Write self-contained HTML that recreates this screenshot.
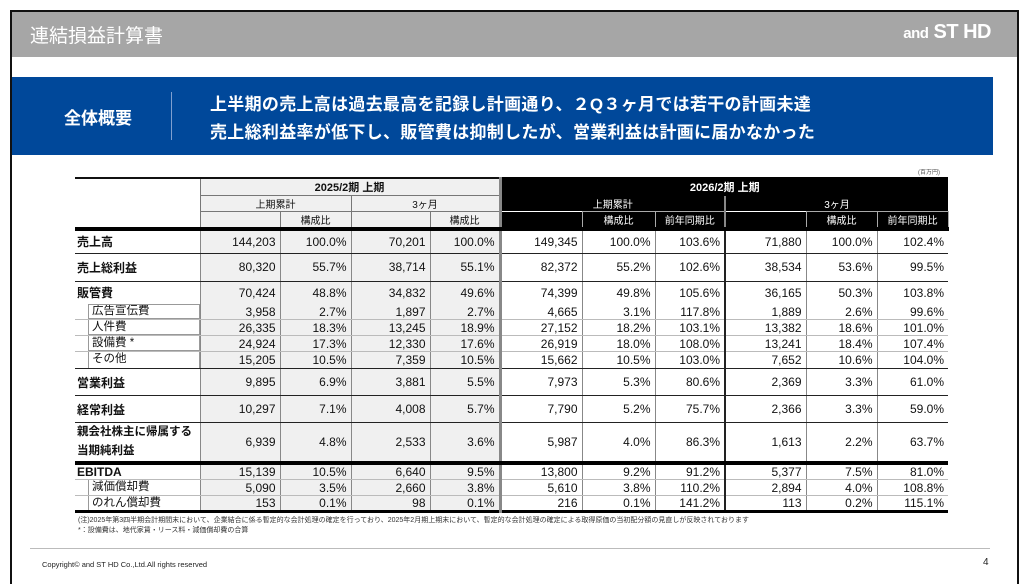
<!DOCTYPE html>
<html><head><meta charset="utf-8"><style>
*{margin:0;padding:0;box-sizing:border-box}
body{width:1026px;height:586px;background:#fff;position:relative;overflow:hidden;font-family:"Liberation Sans","Noto Sans CJK JP",sans-serif}
.frame{position:absolute;left:10px;top:10px;width:1009px;height:574px;border:2px solid #111;border-bottom:none}
.hdr{position:absolute;left:12px;top:12px;width:1005px;height:45px;background:#a6a6a6}
.ttl{position:absolute;left:30px;top:21px;color:#fff;font-size:19px}
.logo{position:absolute;right:35px;top:21px;color:#fff;font-size:20px;font-weight:bold;letter-spacing:-0.5px}
.logo small{font-size:15px}
.blue{position:absolute;left:12px;top:77px;width:981px;height:78px;background:#00489a;color:#fff}
.blue .k{position:absolute;left:52px;top:27px;font-size:17px;font-weight:bold}
.blue .d{position:absolute;left:159px;top:15px;width:1px;height:48px;background:#7f9fcf}
.blue .t{position:absolute;left:198px;top:14px;font-size:17px;font-weight:bold;line-height:28px;letter-spacing:0.3px}
table{position:absolute;left:75px;top:177px;border-collapse:collapse;table-layout:fixed;font-size:12px}
td{padding:0 4px;text-align:right;white-space:nowrap;overflow:hidden;color:#111}
td.l{text-align:left;font-weight:bold;padding-left:2px}
td div{text-align:left;line-height:13px;overflow:hidden}
.g{background:#f0f0f0}
.hg{background:#f0f0f0;text-align:center;font-size:10px;border:1px solid #777}
.hb{background:#000;color:#fff;text-align:center;font-size:10px}
.v{border-left:1px solid #888}
.vb{border-left:3px solid #888}
.vk{border-left:2px solid #222}
tr.b td{border-bottom:1px solid #222}
tr.sb td{border-bottom:1px solid #bbb}
.note{position:absolute;left:78px;font-size:7px;color:#333}
</style></head><body>
<div class="frame"></div>
<div class="hdr"></div>
<div class="ttl">連結損益計算書</div>
<div class="logo"><small>and</small> ST HD</div>
<div class="blue"><div class="k">全体概要</div><div class="d"></div>
<div class="t">上半期の売上高は過去最高を記録し計画通り、２Q３ヶ月では若干の計画未達<br>売上総利益率が低下し、販管費は抑制したが、営業利益は計画に届かなかった</div></div>
<div style="position:absolute;left:918px;top:167px;font-size:6px;color:#555">(百万円)</div>
<table>
<colgroup><col style="width:125px"><col style="width:80px"><col style="width:71px"><col style="width:79px"><col style="width:70px"><col style="width:82px"><col style="width:73px"><col style="width:70px"><col style="width:81px"><col style="width:71px"><col style="width:71px"></colgroup>
<tr style="height:15px"><td style="border-top:2px solid #111"></td><td colspan="4" class="hg" style="font-weight:bold;font-size:11px;border-top:2px solid #111">2025/2期 上期</td><td colspan="6" class="hb vb" style="font-weight:bold;font-size:11px;border-top:2px solid #000">2026/2期 上期</td></tr>
<tr style="height:15px"><td></td><td colspan="2" class="hg">上期累計</td><td colspan="2" class="hg">3ヶ月</td><td colspan="3" class="hb vb">上期累計</td><td colspan="3" class="hb" style="border-left:2px solid #888">3ヶ月</td></tr>
<tr style="height:15px;border-bottom:4px solid #000"><td></td><td class="hg" style="border-top:none"></td><td class="hg">構成比</td><td class="hg" style="border-top:none"></td><td class="hg">構成比</td><td class="hb vb"></td><td class="hb" style="border:1px solid #aaa">構成比</td><td class="hb" style="border:1px solid #aaa">前年同期比</td><td class="hb" style="border-left:2px solid #888"></td><td class="hb" style="border:1px solid #aaa">構成比</td><td class="hb" style="border:1px solid #aaa">前年同期比</td></tr>
<tr class="b" style="height:24px"><td class="l">売上高</td><td class="g v">144,203</td><td class="g v">100.0%</td><td class="g v">70,201</td><td class="g v">100.0%</td><td class="vb">149,345</td><td class="v">100.0%</td><td class="v">103.6%</td><td class="vk">71,880</td><td class="v">100.0%</td><td class="v">102.4%</td></tr>
<tr class="b" style="height:28px"><td class="l">売上総利益</td><td class="g v">80,320</td><td class="g v">55.7%</td><td class="g v">38,714</td><td class="g v">55.1%</td><td class="vb">82,372</td><td class="v">55.2%</td><td class="v">102.6%</td><td class="vk">38,534</td><td class="v">53.6%</td><td class="v">99.5%</td></tr>
<tr style="height:23px"><td class="l">販管費</td><td class="g v">70,424</td><td class="g v">48.8%</td><td class="g v">34,832</td><td class="g v">49.6%</td><td class="vb">74,399</td><td class="v">49.8%</td><td class="v">105.6%</td><td class="vk">36,165</td><td class="v">50.3%</td><td class="v">103.8%</td></tr>
<tr class="sb" style="height:15px"><td style="padding:0 0 0 13px"><div style="border:1px solid #999;height:15px;font-size:11.5px;padding-left:3px">広告宣伝費</div></td><td class="g v">3,958</td><td class="g v">2.7%</td><td class="g v">1,897</td><td class="g v">2.7%</td><td class="vb">4,665</td><td class="v">3.1%</td><td class="v">117.8%</td><td class="vk">1,889</td><td class="v">2.6%</td><td class="v">99.6%</td></tr>
<tr class="sb" style="height:15px"><td style="padding:0 0 0 13px"><div style="border:1px solid #999;border-top:none;height:15px;font-size:11.5px;padding-left:3px;line-height:14px">人件費</div></td><td class="g v">26,335</td><td class="g v">18.3%</td><td class="g v">13,245</td><td class="g v">18.9%</td><td class="vb">27,152</td><td class="v">18.2%</td><td class="v">103.1%</td><td class="vk">13,382</td><td class="v">18.6%</td><td class="v">101.0%</td></tr>
<tr class="sb" style="height:15px"><td style="padding:0 0 0 13px"><div style="border:1px solid #999;border-top:none;height:15px;font-size:11.5px;padding-left:3px;line-height:14px">設備費 *</div></td><td class="g v">24,924</td><td class="g v">17.3%</td><td class="g v">12,330</td><td class="g v">17.6%</td><td class="vb">26,919</td><td class="v">18.0%</td><td class="v">108.0%</td><td class="vk">13,241</td><td class="v">18.4%</td><td class="v">107.4%</td></tr>
<tr class="b" style="height:17px"><td style="padding:0 0 0 13px"><div style="border:1px solid #999;border-top:none;border-bottom:none;height:16px;font-size:11.5px;padding-left:3px;line-height:15px">その他</div></td><td class="g v">15,205</td><td class="g v">10.5%</td><td class="g v">7,359</td><td class="g v">10.5%</td><td class="vb">15,662</td><td class="v">10.5%</td><td class="v">103.0%</td><td class="vk">7,652</td><td class="v">10.6%</td><td class="v">104.0%</td></tr>
<tr class="b" style="height:27px"><td class="l">営業利益</td><td class="g v">9,895</td><td class="g v">6.9%</td><td class="g v">3,881</td><td class="g v">5.5%</td><td class="vb">7,973</td><td class="v">5.3%</td><td class="v">80.6%</td><td class="vk">2,369</td><td class="v">3.3%</td><td class="v">61.0%</td></tr>
<tr class="b" style="height:27px"><td class="l">経常利益</td><td class="g v">10,297</td><td class="g v">7.1%</td><td class="g v">4,008</td><td class="g v">5.7%</td><td class="vb">7,790</td><td class="v">5.2%</td><td class="v">75.7%</td><td class="vk">2,366</td><td class="v">3.3%</td><td class="v">59.0%</td></tr>
<tr style="height:38px;border-bottom:4px solid #000"><td class="l" style="line-height:19px;font-size:11.5px">親会社株主に帰属する<br>当期純利益</td><td class="g v">6,939</td><td class="g v">4.8%</td><td class="g v">2,533</td><td class="g v">3.6%</td><td class="vb">5,987</td><td class="v">4.0%</td><td class="v">86.3%</td><td class="vk">1,613</td><td class="v">2.2%</td><td class="v">63.7%</td></tr>
<tr class="sb" style="height:15px"><td class="l">EBITDA</td><td class="g v">15,139</td><td class="g v">10.5%</td><td class="g v">6,640</td><td class="g v">9.5%</td><td class="vb">13,800</td><td class="v">9.2%</td><td class="v">91.2%</td><td class="vk">5,377</td><td class="v">7.5%</td><td class="v">81.0%</td></tr>
<tr class="sb" style="height:15px"><td style="padding:0 0 0 13px"><div style="border-left:1px solid #999;height:15px;font-size:11.5px;padding-left:3px;line-height:15px">減価償却費</div></td><td class="g v">5,090</td><td class="g v">3.5%</td><td class="g v">2,660</td><td class="g v">3.8%</td><td class="vb">5,610</td><td class="v">3.8%</td><td class="v">110.2%</td><td class="vk">2,894</td><td class="v">4.0%</td><td class="v">108.8%</td></tr>
<tr style="height:14px;border-bottom:3px solid #000"><td style="padding:0 0 0 13px"><div style="border-left:1px solid #999;height:14px;font-size:11.5px;padding-left:3px;line-height:14px">のれん償却費</div></td><td class="g v">153</td><td class="g v">0.1%</td><td class="g v">98</td><td class="g v">0.1%</td><td class="vb">216</td><td class="v">0.1%</td><td class="v">141.2%</td><td class="vk">113</td><td class="v">0.2%</td><td class="v">115.1%</td></tr>
</table>
<div class="note" style="top:515px">(注)2025年第3四半期会計期間末において、企業結合に係る暫定的な会計処理の確定を行っており、2025年2月期上期末において、暫定的な会計処理の確定による取得原価の当初配分額の見直しが反映されております</div>
<div class="note" style="top:525px">*：設備費は、地代家賃・リース料・減価償却費の合算</div>
<div style="position:absolute;left:30px;top:548px;width:960px;height:1px;background:#bbb"></div>
<div style="position:absolute;left:42px;top:560px;font-size:7.5px;color:#222">Copyright© and ST HD Co.,Ltd.All rights reserved</div>
<div style="position:absolute;left:983px;top:557px;font-size:10px;color:#222">4</div>
</body></html>
